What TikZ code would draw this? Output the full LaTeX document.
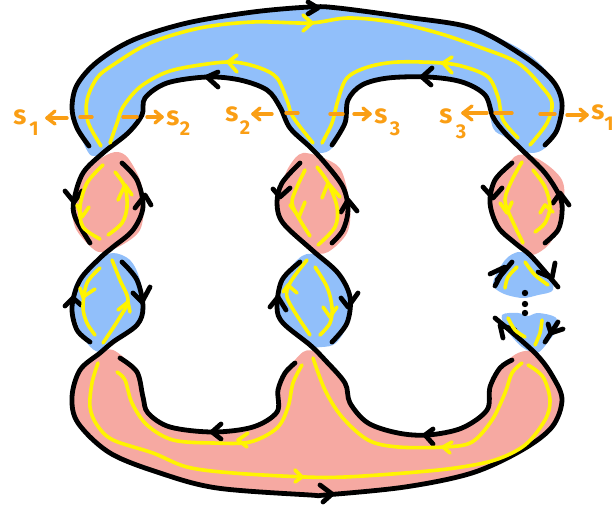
\documentclass[tikz,border=0pt]{standalone}
\usepackage{fontspec}
\setmainfont{Fira Sans}
\definecolor{bluefill}{HTML}{91BFFA}
\definecolor{pinkfill}{HTML}{F6A9A2}
\definecolor{yel}{HTML}{FFF400}
\definecolor{ora}{HTML}{FA9E14}
\tikzset{
  blk/.style={black,line width=4.8pt,line cap=round,line join=round},
  yl/.style={yel,line width=3.6pt,line cap=round,line join=round},
  orl/.style={ora,line width=3.4pt,line cap=round,line join=round},
  sl/.style={ora,font=\bfseries\fontsize{27}{27}\selectfont,inner sep=0pt},
  sb/.style={ora,font=\bfseries\fontsize{20}{20}\selectfont,inner sep=0pt},
}
\newcommand\cv[4]{\draw[#1] #3 -- #2 -- #4;}
\newcommand\curve[2]{\draw[#1] plot[smooth,tension=.55] coordinates {#2};}
\newcommand\blob[2]{\fill[#1] plot[smooth cycle,tension=.55] coordinates {#2};}
\begin{document}
\begin{tikzpicture}[x=1pt,y=-1pt]
\useasboundingbox (0,0) rectangle (615,510);
% ---- fills
\blob{bluefill}{(88,152)(77,128)(72,108)(77,85)(97,62)(133,40)(187,23)(253,11)(310,7)(338,7)(405,15)(472,27)(525,52)(552,78)(563,103)(558,130)(545,148)(533,153)(522,150)(505,137)(493,128)(485,95)(462,82)(428,77)(388,78)(362,85)(348,100)(345,123)(332,148)(320,153)(310,148)(290,128)(280,107)(267,90)(240,80)(207,77)(167,83)(145,98)(142,115)(128,133)(103,153)(94,156)}
\blob{pinkfill}{(117,152)(128,158)(140,180)(144,203)(140,230)(122,245)(103,252)(92,248)(75,227)(73,200)(83,173)(103,157)}
\blob{pinkfill}{(303,153)(328,160)(342,172)(350,207)(347,233)(328,252)(312,252)(298,240)(283,223)(277,203)(282,183)(290,165)}
\blob{pinkfill}{(518,155)(540,160)(562,180)(563,207)(552,240)(538,253)(528,254)(515,243)(498,227)(490,203)(495,180)(505,168)}
\blob{bluefill}{(113,253)(130,260)(140,280)(145,313)(133,330)(115,342)(100,352)(87,343)(75,317)(73,290)(85,270)(97,260)}
\blob{bluefill}{(302,256)(320,256)(338,273)(350,297)(348,323)(336,343)(322,347)(310,345)(283,323)(277,307)(282,280)}
\blob{bluefill}{(518,252)(505,260)(493,283)(502,293)(522,298)(538,295)(553,290)(548,273)(527,255)}
\blob{bluefill}{(502,315)(518,313)(528,316)(538,313)(555,317)(558,327)(548,342)(537,353)(522,347)(507,330)}
\blob{pinkfill}{(100,353)(113,350)(130,363)(137,372)(143,397)(148,413)(170,427)(213,432)(253,427)(277,412)(278,390)(285,373)(303,352)(316,352)(325,360)(345,383)(350,403)(368,423)(398,433)(428,435)(462,428)(487,410)(490,387)(500,368)(518,353)(535,353)(553,377)(562,400)(552,427)(522,450)(472,473)(405,487)(325,495)(310,495)(217,488)(160,473)(110,453)(78,423)(72,397)(80,370)}
% ---- black strands
\curve{blk}{(89,146)(77,128)(72,108)(77,85)(97,62)(133,40)(187,23)(253,12)(310,7)(338,8)(405,17)(472,28)(522,55)(552,80)(562,103)(557,130)(545,145)}
\curve{blk}{(90,243)(75,217)(74,200)(83,173)(103,153)(128,133)(142,115)(145,98)(167,83)(207,77)(240,80)(267,90)(280,107)(290,128)(310,147)(325,163)(343,187)(348,210)(343,230)(332,243)}
\curve{blk}{(122,163)(137,180)(143,207)(133,230)(113,247)(100,258)(80,280)(72,307)(77,330)(90,342)}
\curve{blk}{(122,262)(137,280)(143,307)(137,325)(113,342)(100,353)(80,370)(72,397)(78,423)(110,453)(160,473)(217,488)(310,495)(325,495)(405,487)(472,473)(522,450)(552,427)(562,400)(553,377)(535,353)(495,318)}
\curve{blk}{(120,358)(137,372)(143,397)(148,413)(170,427)(213,432)(253,427)(277,412)(278,390)(285,373)(295,363)}
\curve{blk}{(300,163)(282,183)(277,203)(283,223)(312,250)(338,273)(350,297)(347,323)(332,342)}
\curve{blk}{(300,262)(282,280)(277,307)(283,323)(310,345)(325,360)(345,383)(350,403)(368,423)(398,433)(428,435)(462,428)(487,410)(490,387)(500,368)(512,360)}
\curve{blk}{(332,145)(345,123)(348,100)(362,85)(388,78)(428,77)(462,82)(485,95)(493,117)(505,133)(522,150)(545,173)(560,197)(562,213)(558,230)(545,243)}
\curve{blk}{(512,163)(495,180)(490,203)(498,227)(515,243)(532,257)(558,287)}
\curve{blk}{(512,262)(497,280)}
\curve{blk}{(558,322)(545,342)}
% ---- black arrowheads
\cv{blk}{(318,8)}{(308,2)}{(308,14)}
\cv{blk}{(207,77)}{(218,72)}{(218,87)}
\cv{blk}{(422,77)}{(432,68)}{(431,85)}
\cv{blk}{(74,202)}{(65,191)}{(82,191)}
\cv{blk}{(145,195)}{(135,208)}{(151,205)}
\cv{blk}{(280,197)}{(273,189)}{(290,188)}
\cv{blk}{(348,200)}{(341,212)}{(357,211)}
\cv{blk}{(493,198)}{(483,187)}{(502,188)}
\cv{blk}{(560,193)}{(553,203)}{(569,205)}
\cv{blk}{(73,298)}{(65,306)}{(81,305)}
\cv{blk}{(142,302)}{(133,293)}{(150,287)}
\cv{blk}{(278,297)}{(270,307)}{(286,310)}
\cv{blk}{(348,307)}{(341,298)}{(358,293)}
\cv{blk}{(505,267)}{(490,274)}{(495,286)}
\cv{blk}{(552,278)}{(538,272)}{(555,263)}
\cv{blk}{(500,325)}{(515,330)}{(503,338)}
\cv{blk}{(551,333)}{(548,324)}{(563,329)}
\cv{blk}{(332,494)}{(320,485)}{(323,502)}
\cv{blk}{(212,432)}{(221,424)}{(221,439)}
\cv{blk}{(425,435)}{(433,429)}{(433,444)}
% ---- dots
\fill (525,293) circle (3.2);
\fill (525,304) circle (3.2);
\fill (525,313) circle (3.2);
% ---- yellow strands
\curve{yl}{(101,146)(88,122)(87,100)(97,78)(113,65)(150,43)(200,28)(253,22)(310,23)(348,18)(392,22)(438,33)(482,48)(518,63)(542,87)(552,103)(547,123)(530,145)}
\curve{yl}{(110,143)(117,123)(123,107)(140,87)(167,72)(200,65)(233,62)(260,68)(277,78)(287,100)(293,117)(313,143)}
\curve{yl}{(322,143)(332,123)(338,100)(347,78)(368,67)(398,62)(442,63)(465,67)(488,77)(498,97)(503,120)(518,138)}
\curve{yl}{(103,165)(87,183)(80,207)(83,227)(100,239)}
\curve{yl}{(115,172)(125,187)(127,207)(122,223)(108,235)}
\curve{yl}{(305,170)(297,187)(292,203)(300,220)(310,236)}
\curve{yl}{(317,167)(328,183)(337,207)(335,227)(318,245)}
\curve{yl}{(522,162)(512,180)(505,200)(512,220)(523,243)}
\curve{yl}{(533,170)(545,187)(550,207)(545,223)(535,232)}
\curve{yl}{(100,268)(87,283)(83,307)(87,323)(95,335)}
\curve{yl}{(112,260)(120,280)(128,300)(120,317)(103,343)}
\curve{yl}{(307,260)(290,283)(288,300)(310,335)}
\curve{yl}{(315,267)(327,287)(332,307)(330,323)(320,335)}
\curve{yl}{(517,267)(508,277)(505,288)}
\curve{yl}{(525,262)(535,275)(548,285)}
\curve{yl}{(508,318)(515,330)(525,337)}
\curve{yl}{(542,320)(540,333)(535,345)}
\curve{yl}{(98,363)(92,383)(90,407)(97,425)(113,440)(153,453)(187,467)(233,473)(305,477)(345,477)(405,473)(455,468)(495,460)(525,445)(545,420)(550,400)(543,377)(528,365)}
\curve{yl}{(117,372)(125,380)(132,403)(147,425)(173,440)(213,443)(250,442)(277,428)(288,407)(293,383)(302,365)}
\curve{yl}{(313,358)(325,390)(342,417)(368,440)(398,447)(445,447)(472,442)(492,420)(505,393)(512,373)(522,363)}
% ---- yellow arrowheads
\cv{yl}{(312,23)}{(303,15)}{(303,31)}
\cv{yl}{(228,62)}{(237,55)}{(237,72)}
\cv{yl}{(443,63)}{(452,57)}{(452,73)}
\cv{yl}{(82,217)}{(77,205)}{(89,207)}
\cv{yl}{(125,185)}{(118,200)}{(132,195)}
\cv{yl}{(299,217)}{(290,205)}{(305,202)}
\cv{yl}{(328,183)}{(322,198)}{(340,197)}
\cv{yl}{(507,213)}{(500,203)}{(512,202)}
\cv{yl}{(545,205)}{(540,213)}{(553,212)}
\cv{yl}{(83,297)}{(80,288)}{(95,289)}
\cv{yl}{(128,302)}{(118,310)}{(130,312)}
\cv{yl}{(288,285)}{(283,292)}{(297,293)}
\cv{yl}{(330,317)}{(323,307)}{(337,307)}
\cv{yl}{(302,477)}{(295,470)}{(295,482)}
\cv{yl}{(238,440)}{(248,433)}{(247,447)}
\cv{yl}{(443,447)}{(452,442)}{(450,453)}
% ---- orange dashes and arrows
\draw[orl] (80,117) -- (92,117);
\draw[orl] (123,117) -- (137,117);
\draw[orl] (286,113) -- (298,113);
\draw[orl] (330,114) -- (343,114);
\draw[orl] (495,113) -- (512,113);
\draw[orl] (540,114) -- (555,114);
\draw[orl] (67,118) -- (47,118); \cv{orl}{(47,118)}{(55,111)}{(55,124)}
\draw[orl] (147,117) -- (162,117); \cv{orl}{(162,117)}{(155,111)}{(155,123)}
\draw[orl] (272,114) -- (253,114); \cv{orl}{(253,114)}{(260,108)}{(260,120)}
\draw[orl] (354,114) -- (370,114); \cv{orl}{(370,114)}{(363,108)}{(363,120)}
\draw[orl] (487,113) -- (463,113); \cv{orl}{(463,113)}{(472,106)}{(472,120)}
\draw[orl] (567,115) -- (587,115); \cv{orl}{(587,115)}{(580,109)}{(580,121)}
% ---- labels
\node[sl] (a1) at (20,117) {s};
\node[sb] (a1s) at (34,129) {1};
\node[sl] (a2) at (173,118) {s};
\node[sb] (a2s) at (185,129) {2};
\node[sl] (b2) at (232,114) {s};
\node[sb] (b2s) at (245,128) {2};
\node[sl] (b3) at (381,116) {s};
\node[sb] (b3s) at (395,129) {3};
\node[sl] (c3) at (446,116) {s};
\node[sb] (c3s) at (461,132) {3};
\node[sl] (c1) at (598,112) {s};
\node[sb] (c1s) at (609,124) {1};
\end{tikzpicture}
\end{document}
